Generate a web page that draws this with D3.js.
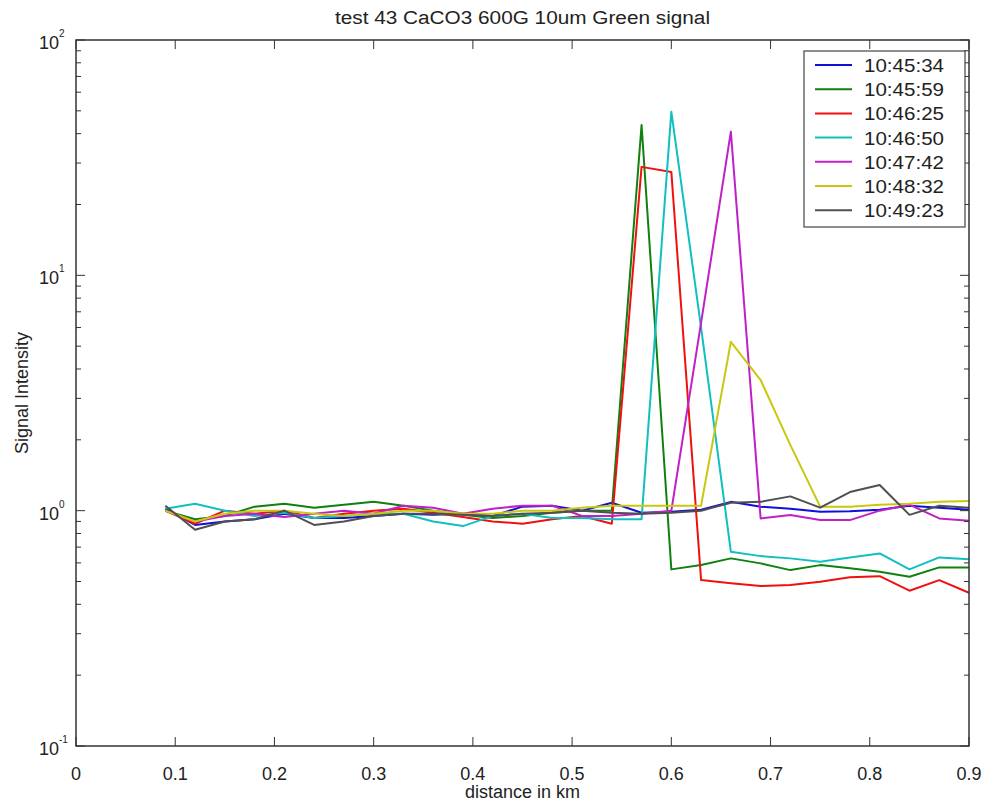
<!DOCTYPE html>
<html>
<head>
<meta charset="utf-8">
<title>test 43 CaCO3 600G 10um Green signal</title>
<script type="text/javascript" src="https://cdn.jsdelivr.net/npm/d3@7"></script>
<style>
  body { margin: 0; background: #fff; }
  text { font-family: "Liberation Sans", Arial, sans-serif; fill: #222; }
</style>
</head>
<body>
<script type="text/javascript">
// distance in km, one sample every 0.03
var distance = [0.09, 0.12, 0.15, 0.18, 0.21, 0.24, 0.27, 0.30, 0.33, 0.36, 0.39, 0.42, 0.45, 0.48,
                0.51, 0.54, 0.57, 0.60, 0.63, 0.66, 0.69, 0.72, 0.75, 0.78, 0.81, 0.84, 0.87, 0.90]

var times = ["10:45:34", "10:45:59", "10:46:25", "10:46:50", "10:47:42", "10:48:32", "10:49:23"]
var colors = ["#1010d8", "#108010", "#f01010", "#10c0c0", "#c020c8", "#c8c810", "#505050"]

var s1 = [1.02, 0.87, 0.90, 0.92, 0.97, 0.93, 0.93, 0.95, 0.97, 0.96, 0.97, 0.95, 1.04, 1.05,
          1.00, 1.08, 0.98, 0.99, 1.01, 1.09, 1.04, 1.02, 0.99, 0.995, 1.01, 1.05, 1.03, 1.01]
var s2 = [1.00, 0.92, 0.95, 1.04, 1.07, 1.03, 1.06, 1.09, 1.05, 1.00, 0.96, 0.93, 0.95, 0.98,
          1.00, 1.00, 43.5, 0.563, 0.588, 0.627, 0.597, 0.559, 0.587, 0.569, 0.550, 0.524, 0.574, 0.574]
var s3 = [1.00, 0.88, 1.00, 0.97, 1.00, 0.93, 0.97, 1.00, 1.02, 0.98, 0.94, 0.90, 0.88, 0.92,
          0.95, 0.88, 28.9, 27.5, 0.507, 0.491, 0.478, 0.483, 0.499, 0.521, 0.527, 0.457, 0.507, 0.448]
var s4 = [1.02, 1.07, 1.00, 0.95, 0.98, 0.93, 0.95, 0.97, 0.97, 0.90, 0.86, 0.95, 0.97, 0.93,
          0.93, 0.92, 0.92, 49.6, 6.0, 0.669, 0.641, 0.627, 0.607, 0.633, 0.658, 0.563, 0.633, 0.621]
var s5 = [1.00, 0.90, 0.95, 0.97, 0.94, 0.97, 1.00, 0.97, 1.05, 1.03, 0.97, 1.02, 1.05, 1.05,
          0.95, 0.95, 0.97, 1.00, 6.3, 40.8, 0.927, 0.958, 0.912, 0.912, 1.00, 1.06, 0.927, 0.906]
var s6 = [1.00, 0.90, 0.97, 1.00, 1.00, 0.97, 0.95, 0.97, 1.00, 1.00, 0.97, 0.97, 1.00, 1.00,
          1.03, 1.05, 1.05, 1.05, 1.05, 5.22, 3.59, 1.90, 1.04, 1.04, 1.06, 1.07, 1.09, 1.10]
var s7 = [1.05, 0.83, 0.90, 0.92, 1.00, 0.87, 0.90, 0.95, 0.97, 0.97, 0.96, 0.95, 0.97, 0.98,
          1.00, 0.98, 0.97, 0.98, 1.00, 1.08, 1.09, 1.15, 1.03, 1.20, 1.285, 0.96, 1.05, 1.03]
var series = [s1, s2, s3, s4, s5, s6, s7]

var xTicks = [0, 0.1, 0.2, 0.3, 0.4, 0.5, 0.6, 0.7, 0.8, 0.9]
var yDecades = [2, 1, 0, -1]

var width = 987
var height = 804
var padL = 76, padR = 969, padT = 40, padB = 746

var svg = d3.select("body").append("svg")
    .attr("width", width)
    .attr("height", height)

var x = d3.scaleLinear().domain([0, 0.9]).range([padL, padR])
var y = d3.scaleLog().domain([0.1, 100]).range([padB, padT])

// lines
var line = d3.line()
    .x(function(d, i) { return x(distance[i]) })
    .y(function(d) { return y(d) })

series.forEach(function(s, k) {
    svg.append("path")
        .attr("d", line(s))
        .attr("fill", "none")
        .attr("stroke", colors[k])
        .attr("stroke-width", 2)
        .attr("stroke-linejoin", "round")
})

// box + inward ticks on all sides
svg.append("rect")
    .attr("x", padL).attr("y", padT)
    .attr("width", padR - padL).attr("height", padB - padT)
    .attr("fill", "none").attr("stroke", "#333").attr("stroke-width", 1.5)

xTicks.forEach(function(t) {
    svg.append("line").attr("x1", x(t)).attr("x2", x(t)).attr("y1", padB).attr("y2", padB - 9)
        .attr("stroke", "#333")
    svg.append("line").attr("x1", x(t)).attr("x2", x(t)).attr("y1", padT).attr("y2", padT + 9)
        .attr("stroke", "#333")
    svg.append("text")
        .attr("x", x(t)).attr("y", padB + 34)
        .attr("text-anchor", "middle")
        .attr("font-size", 18)
        .text(t)
})

var minor = []
for (var e = -1; e < 2; e++) {
    for (var m = 2; m < 10; m++) minor.push(m * Math.pow(10, e))
}
minor.forEach(function(v) {
    svg.append("line").attr("x1", padL).attr("x2", padL + 5).attr("y1", y(v)).attr("y2", y(v)).attr("stroke", "#333")
    svg.append("line").attr("x1", padR).attr("x2", padR - 5).attr("y1", y(v)).attr("y2", y(v)).attr("stroke", "#333")
})
yDecades.forEach(function(e) {
    var v = Math.pow(10, e)
    svg.append("line").attr("x1", padL).attr("x2", padL + 9).attr("y1", y(v)).attr("y2", y(v)).attr("stroke", "#333")
    svg.append("line").attr("x1", padR).attr("x2", padR - 9).attr("y1", y(v)).attr("y2", y(v)).attr("stroke", "#333")
    svg.append("text")
        .attr("x", padL - 17).attr("y", y(v) + 9)
        .attr("text-anchor", "end")
        .attr("font-size", 18)
        .text("10")
    svg.append("text")
        .attr("x", padL - 17).attr("y", y(v) - 3)
        .attr("font-size", 10)
        .text(e)
})

// title and axis labels
svg.append("text")
    .attr("x", (padL + padR) / 2).attr("y", 24)
    .attr("text-anchor", "middle")
    .attr("font-size", 18)
    .attr("textLength", 375).attr("lengthAdjust", "spacingAndGlyphs")
    .text("test 43 CaCO3 600G 10um Green signal")

svg.append("text")
    .attr("x", (padL + padR) / 2).attr("y", 798)
    .attr("text-anchor", "middle")
    .attr("font-size", 18)
    .text("distance in km")

svg.append("text")
    .attr("transform", "translate(28," + ((padT + padB) / 2) + ") rotate(-90)")
    .attr("text-anchor", "middle")
    .attr("font-size", 18)
    .text("Signal Intensity")

// legend
var lg = svg.append("g")
lg.append("rect")
    .attr("x", 804).attr("y", 51).attr("width", 161).attr("height", 176)
    .attr("fill", "#fff").attr("stroke", "#444").attr("stroke-width", 1.2)
times.forEach(function(t, k) {
    var yy = 65 + k * 24.2
    lg.append("line")
        .attr("x1", 815).attr("x2", 852).attr("y1", yy).attr("y2", yy)
        .attr("stroke", colors[k]).attr("stroke-width", 2)
    lg.append("text")
        .attr("x", 864).attr("y", yy + 7)
        .attr("font-size", 19)
        .attr("textLength", 80).attr("lengthAdjust", "spacingAndGlyphs")
        .text(t)
})
</script>
</body>
</html>
